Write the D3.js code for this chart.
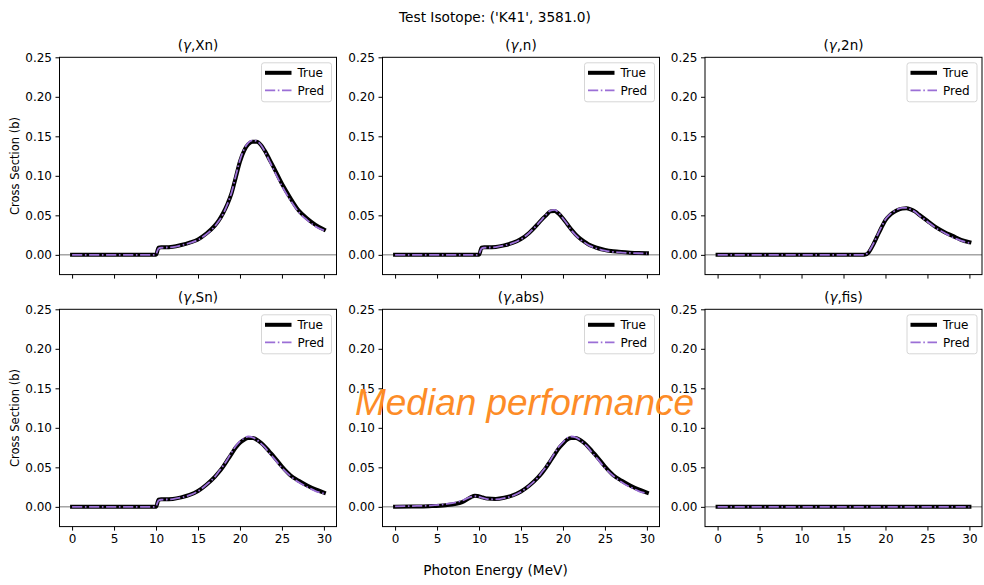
<!DOCTYPE html>
<html><head><meta charset="utf-8">
<script src="https://cdn.jsdelivr.net/npm/d3@7/dist/d3.min.js"></script>
<style>body{margin:0;background:#fff}</style>
</head><body><svg id="c" width="984" height="585"></svg>
<script>
const energies = [0,2,4,6,8,9,9.5,9.8,10.0,10.3,10.6,11,12,13,14,15,16,17,17.5,18,18.5,19,19.5,20,20.5,21,21.5,22,22.5,23,23.5,24,25,26,27,28,29,30];
const panelTitles = ["Xn","n","2n","Sn","abs","fis"];
const trueXn = [0,0,0,0,0,0,0,0,0,0.009,0.0095,0.0095,0.0102,0.0125,0.0155,0.0195,0.027,0.037,0.044,0.053,0.064,0.078,0.098,0.118,0.132,0.140,0.143,0.143,0.139,0.131,0.121,0.111,0.090,0.072,0.056,0.046,0.038,0.032];
const predXn = [0,0,0,0,0,0,0,0,0.001,0.008,0.009,0.0092,0.0098,0.012,0.015,0.019,0.026,0.036,0.043,0.052,0.064,0.079,0.100,0.120,0.134,0.142,0.145,0.144,0.139,0.130,0.119,0.108,0.087,0.069,0.054,0.044,0.036,0.031];
const trueN = [0,0,0,0,0,0,0,0,0,0.009,0.0095,0.0095,0.010,0.012,0.015,0.020,0.028,0.039,0.045,0.050,0.055,0.0555,0.052,0.046,0.039,0.032,0.026,0.021,0.017,0.0135,0.011,0.009,0.0062,0.0045,0.0035,0.0028,0.0023,0.002];
const predN = [0,0,0,0,0,0,0,0,0.001,0.008,0.009,0.0092,0.0098,0.0118,0.0148,0.0198,0.028,0.039,0.045,0.051,0.056,0.057,0.053,0.046,0.039,0.031,0.025,0.020,0.016,0.0125,0.010,0.008,0.0052,0.0037,0.0029,0.0024,0.002,0.0017];
const true2n = [0,0,0,0,0,0,0,0,0,0,0,0,0,0,0,0,0,0,0,0.003,0.012,0.023,0.034,0.044,0.050,0.054,0.057,0.0585,0.059,0.0575,0.055,0.051,0.043,0.035,0.029,0.024,0.019,0.016];
const pred2n = [0,0,0,0,0,0,0,0,0,0,0,0,0,0,0,0,0,0,0,0.004,0.013,0.024,0.035,0.045,0.051,0.055,0.058,0.0595,0.0595,0.0575,0.0545,0.050,0.042,0.034,0.028,0.022,0.018,0.015];
const trueSn = [0,0,0,0,0,0,0,0,0,0.009,0.0095,0.0095,0.010,0.012,0.015,0.020,0.028,0.038,0.044,0.051,0.059,0.067,0.075,0.081,0.085,0.087,0.087,0.085,0.081,0.076,0.070,0.064,0.051,0.040,0.033,0.027,0.022,0.018];
const predSn = [0,0,0,0,0,0,0,0,0.001,0.008,0.009,0.0092,0.0098,0.0118,0.0148,0.0198,0.028,0.038,0.045,0.052,0.060,0.069,0.077,0.083,0.087,0.089,0.088,0.085,0.080,0.075,0.068,0.062,0.049,0.039,0.031,0.025,0.020,0.017];
const trueAbs = [0,0.0003,0.0008,0.002,0.006,0.012,0.014,0.0138,0.0133,0.0124,0.0114,0.0105,0.010,0.0115,0.0145,0.0195,0.027,0.037,0.043,0.050,0.058,0.066,0.074,0.080,0.085,0.087,0.087,0.085,0.081,0.076,0.070,0.064,0.051,0.040,0.033,0.027,0.022,0.018];
const predAbs = [0.0005,0.001,0.0016,0.0035,0.008,0.0125,0.0135,0.0132,0.0127,0.0118,0.0108,0.0099,0.0095,0.011,0.014,0.019,0.027,0.037,0.044,0.051,0.059,0.068,0.076,0.082,0.087,0.089,0.088,0.085,0.080,0.075,0.068,0.062,0.049,0.039,0.031,0.025,0.020,0.017];
const trueFis = energies.map(() => 0);
const predFis = energies.map(() => 0);
const xTicks = [0,5,10,15,20,25,30];
const yTicks = [0,0.05,0.10,0.15,0.20,0.25];
const legendLabels = ["True","Pred"];

const panels = [
  {t: trueXn, p: predXn}, {t: trueN, p: predN}, {t: true2n, p: pred2n},
  {t: trueSn, p: predSn}, {t: trueAbs, p: predAbs}, {t: trueFis, p: predFis}
];

const svg = d3.select("#c");
const F = "'DejaVu Sans', sans-serif";
const lefts = [59.5, 382.5, 705];
const tops = [57.3, 309.3];
const W = 277, H = 217.3;
const PURPLE = "#9b6fd6";
const DASH = "10.2,2.6,1.6,2.6";

panels.forEach((pn, i) => {
  const col = i % 3, row = Math.floor(i / 3);
  const g = svg.append("g").attr("transform", `translate(${lefts[col]},${tops[row]})`);
  const x = d3.scaleLinear().domain([-1.5, 31.5]).range([0, W]);
  const y = d3.scaleLinear().domain([-0.025, 0.25]).range([H, 0]);

  g.append("line").attr("x1", 0).attr("x2", W).attr("y1", y(0)).attr("y2", y(0))
    .attr("stroke", "#555").attr("stroke-width", 0.8);

  const line = d3.line().x((d, j) => x(energies[j])).y(d => y(d)).curve(d3.curveMonotoneX);
  g.append("path").datum(pn.t).attr("d", line).attr("fill", "none")
    .attr("stroke", "#000").attr("stroke-width", 4).attr("stroke-linecap", "square").attr("stroke-linejoin", "round");
  g.append("path").datum(pn.p).attr("d", line).attr("fill", "none")
    .attr("stroke", PURPLE).attr("stroke-width", 1.8).attr("stroke-dasharray", DASH);

  const ya = g.append("g").call(d3.axisLeft(y).tickValues(yTicks).tickFormat(d3.format(".2f")).tickSize(4).tickPadding(3.5));
  const xa = g.append("g").attr("transform", `translate(0,${H})`)
    .call(d3.axisBottom(x).tickValues(xTicks).tickFormat(row === 1 ? d3.format("d") : () => "").tickSize(4).tickPadding(3.5));
  [ya, xa].forEach(a => {
    a.select(".domain").remove();
    a.selectAll("text").attr("font-family", F).attr("font-size", "12px").attr("fill", "#000");
    a.selectAll("line").attr("stroke", "#000").attr("stroke-width", 1);
  });

  g.append("rect").attr("x", 0).attr("y", 0).attr("width", W).attr("height", H)
    .attr("fill", "none").attr("stroke", "#000").attr("stroke-width", 1);

  const tt = g.append("text").attr("x", W / 2).attr("y", -7).attr("text-anchor", "middle")
    .attr("font-family", F).attr("font-size", "13.5px").attr("fill", "#000");
  tt.append("tspan").text("(");
  tt.append("tspan").attr("font-style", "italic").text("γ");
  tt.append("tspan").text("," + panelTitles[i] + ")");

  const lg = g.append("g").attr("transform", `translate(${W - 5 - 70},5.5)`);
  lg.append("rect").attr("width", 70).attr("height", 39).attr("rx", 2.5)
    .attr("fill", "#fff").attr("fill-opacity", 0.8).attr("stroke", "#d6d6d6").attr("stroke-width", 1);
  [0, 1].forEach(k => {
    const ly = 10 + k * 17.5;
    const l = lg.append("line").attr("x1", 3.5).attr("x2", 30).attr("y1", ly).attr("y2", ly);
    if (k === 0) l.attr("stroke", "#000").attr("stroke-width", 4);
    else l.attr("stroke", PURPLE).attr("stroke-width", 1.8).attr("stroke-dasharray", DASH);
    lg.append("text").attr("x", 36).attr("y", ly + 4.3).attr("font-family", F)
      .attr("font-size", "12px").attr("fill", "#000").text(legendLabels[k]);
  });
});

[166, 418].forEach(cy => {
  svg.append("text").attr("transform", `translate(18.5,${cy}) rotate(-90)`).attr("text-anchor", "middle")
    .attr("font-family", F).attr("font-size", "11.5px").attr("fill", "#000").text("Cross Section (b)");
});

svg.append("text").attr("x", 495).attr("y", 22).attr("text-anchor", "middle")
  .attr("font-family", F).attr("font-size", "13.7px").attr("fill", "#000").text("Test Isotope: ('K41', 3581.0)");
svg.append("text").attr("x", 495.5).attr("y", 575).attr("text-anchor", "middle")
  .attr("font-family", F).attr("font-size", "13.7px").attr("fill", "#000").text("Photon Energy (MeV)");

svg.append("text").attr("x", 355).attr("y", 415)
  .attr("font-family", "'Liberation Sans', Arial, sans-serif").attr("font-style", "italic")
  .attr("font-size", "37px").attr("fill", "#fd8c27")
  .attr("textLength", 339).attr("lengthAdjust", "spacing").text("Median performance");
</script></body></html>
